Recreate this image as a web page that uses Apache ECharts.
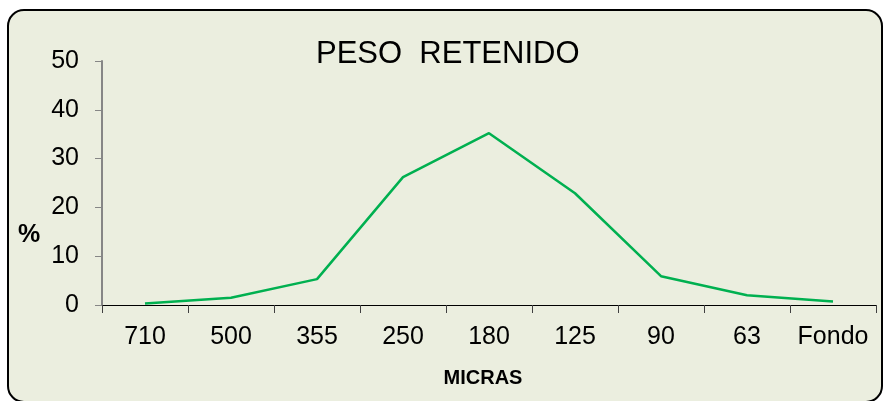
<!DOCTYPE html>
<html>
<head>
<meta charset="utf-8">
<script src="https://cdn.jsdelivr.net/npm/echarts@6/dist/echarts.min.js"></script>
<style>
  html, body { margin: 0; padding: 0; background: #ffffff; }
  #chart { width: 883px; height: 401px; }
</style>
</head>
<body>
<div id="chart"></div>
<script>
// sizes in micras, last one is the pan
var categories = ['710', '500', '355', '250', '180', '125', '90', '63', 'Fondo'];
var pesoRetenido = [0.3, 1.5, 5.3, 26.2, 35.2, 22.9, 5.9, 2.0, 0.7];
var yTicks = [0, 10, 20, 30, 40, 50];

var myChart = echarts.init(document.getElementById('chart'));
var font = 'Liberation Sans, Arial, sans-serif';

var option = {
    animation: false,
    graphic: [
        {
            type: 'rect',
            z: -10,
            shape: { x: 8, y: 10, width: 874, height: 392, r: 16 },
            style: { fill: '#EBEEDF', stroke: '#000000', lineWidth: 2 }
        },
        {
            type: 'text',
            left: 18,
            top: 223,
            style: { text: '%', fill: '#000', font: 'bold 25px ' + font }
        }
    ],
    title: {
        text: 'PESO  RETENIDO',
        left: 311,
        top: 34,
        textStyle: { fontFamily: font, fontWeight: 'normal', fontSize: 31, color: '#000' }
    },
    grid: { left: 102, right: 7, top: 61, bottom: 96, containLabel: false },
    xAxis: {
        type: 'category',
        data: categories,
        boundaryGap: true,
        name: 'MICRAS',
        nameLocation: 'middle',
        nameGap: 63,
        nameTextStyle: { fontFamily: font, fontWeight: 'bold', fontSize: 20, color: '#000', padding: [0, 12, 0, 0] },
        axisLine: { lineStyle: { color: '#000', width: 1 } },
        axisTick: { show: true, interval: 0, length: 8, alignWithLabel: false, lineStyle: { color: '#404040' } },
        axisLabel: { interval: 0, margin: 20, fontFamily: font, fontSize: 25, color: '#000' },
        splitLine: { show: false }
    },
    yAxis: {
        type: 'value',
        min: yTicks[0],
        max: yTicks[yTicks.length - 1],
        interval: 10,
        axisLine: { show: true, lineStyle: { color: '#868686', width: 2 } },
        axisTick: { show: true, length: 7, lineStyle: { color: '#868686' } },
        axisLabel: { margin: 23, fontFamily: font, fontSize: 25, color: '#000' },
        splitLine: { show: false }
    },
    series: [{
        name: 'PESO RETENIDO',
        type: 'line',
        data: pesoRetenido,
        symbol: 'none',
        lineStyle: { color: '#00B050', width: 2.5 },
        itemStyle: { color: '#00B050' }
    }]
};
myChart.setOption(option);
</script>
</body>
</html>
